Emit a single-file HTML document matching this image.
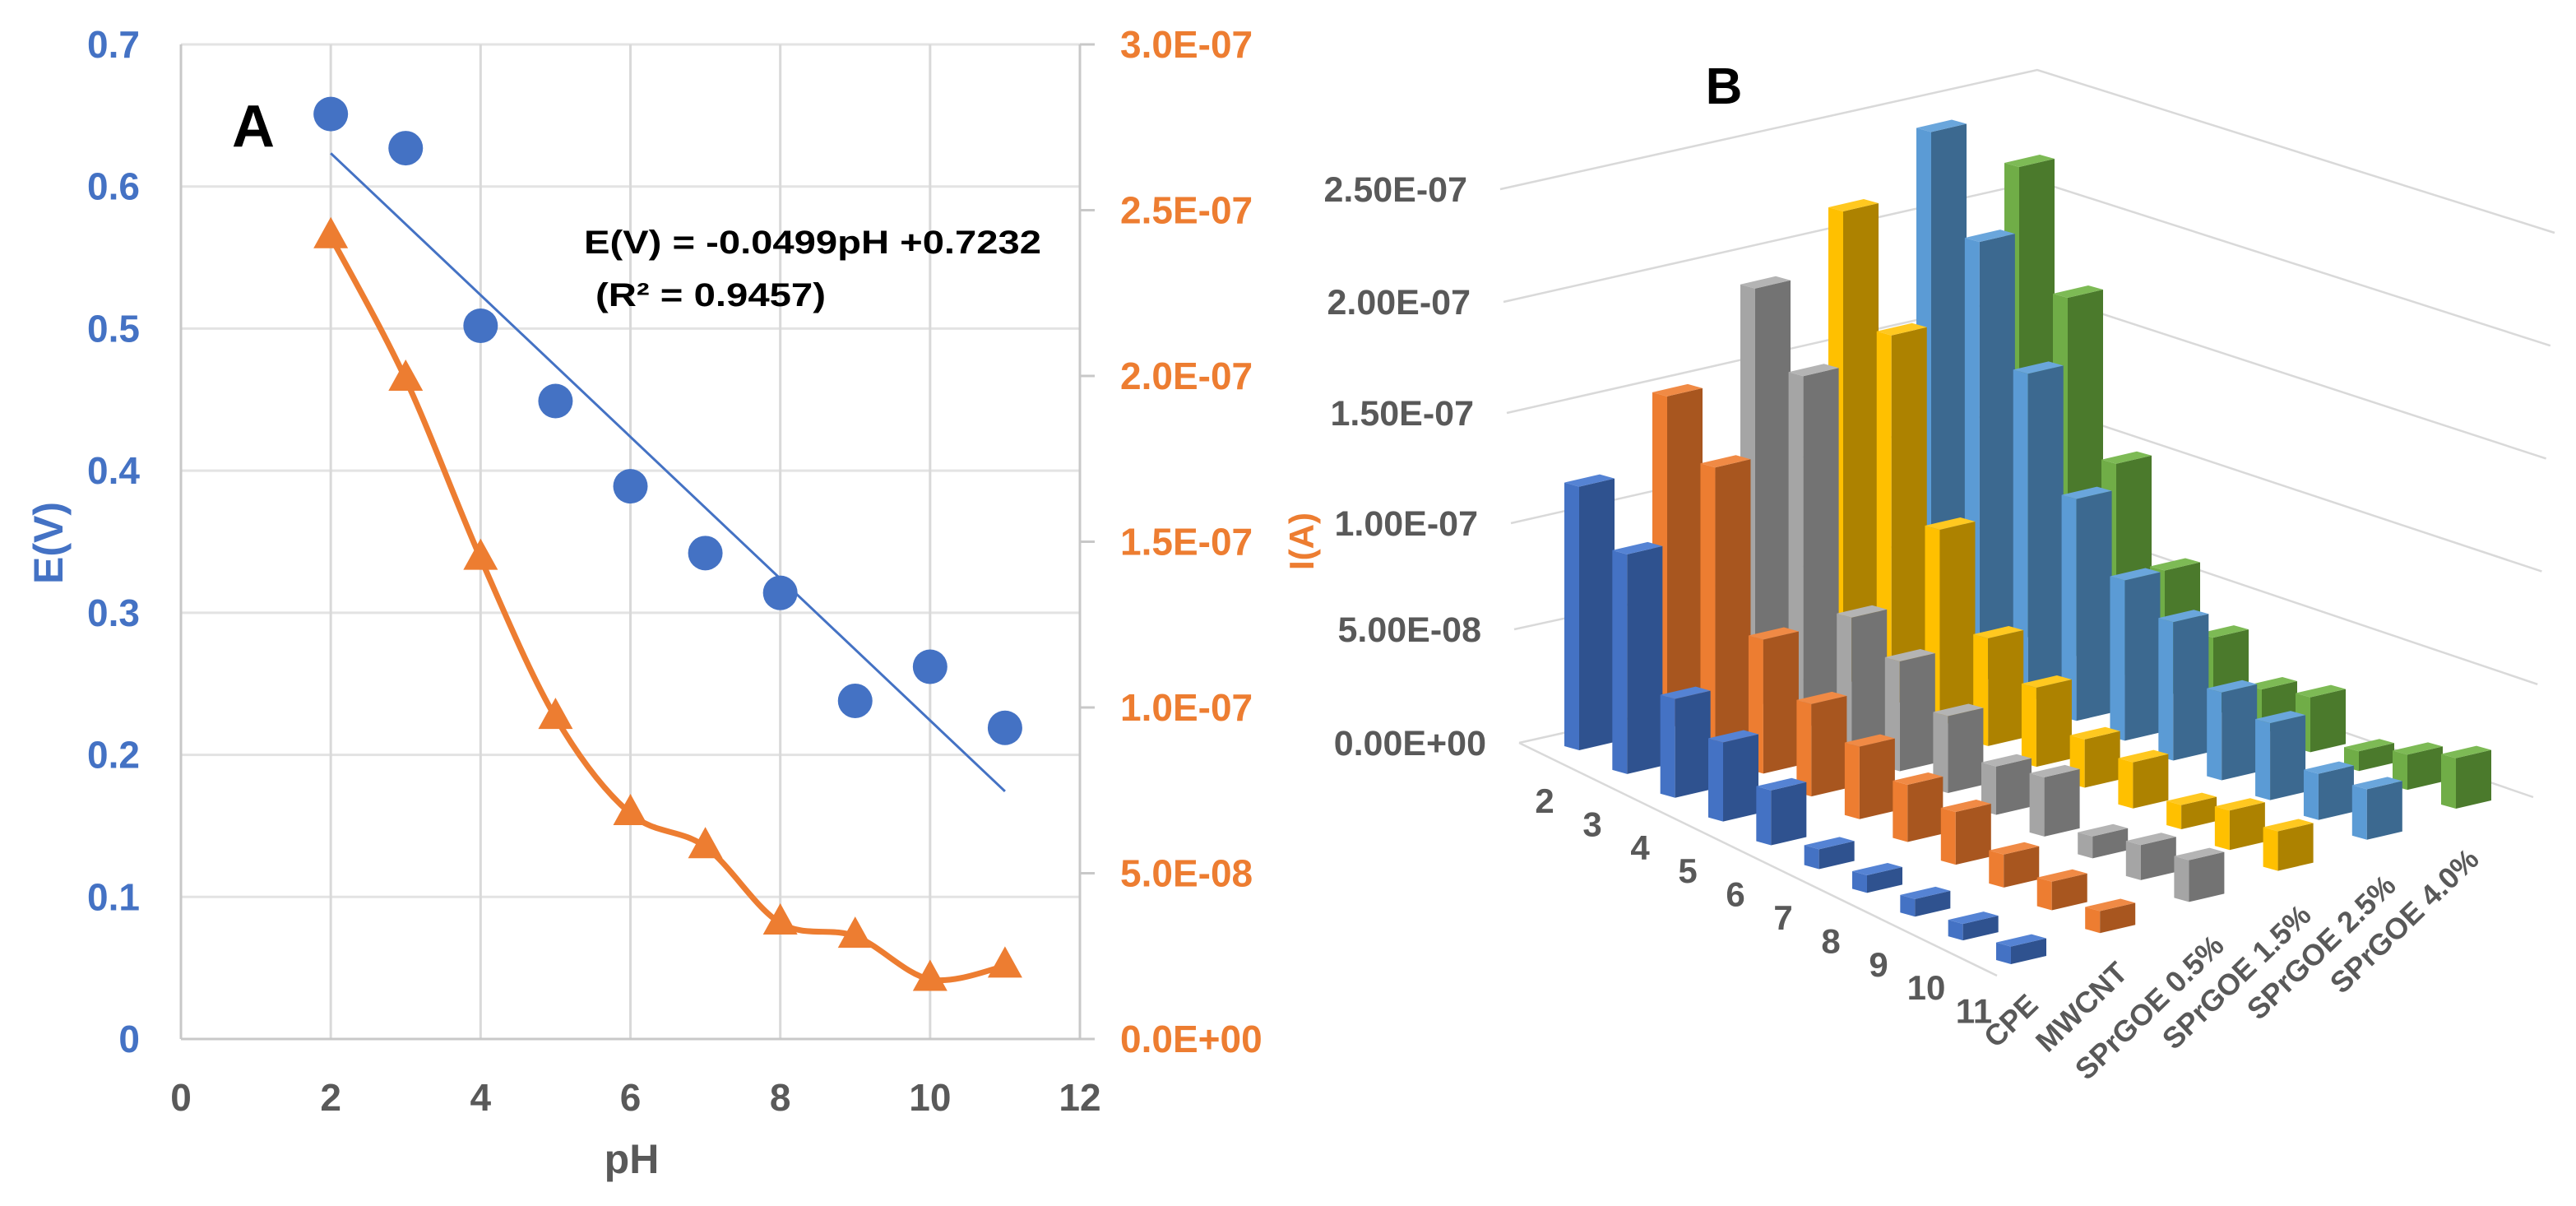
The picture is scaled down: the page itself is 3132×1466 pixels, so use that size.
<!DOCTYPE html>
<html><head><meta charset="utf-8">
<style>
html,body{margin:0;padding:0;background:#fff;}
svg{display:block;font-family:"Liberation Sans",sans-serif;font-weight:bold;}
</style></head>
<body>
<svg id="fig" width="3132" height="1466" viewBox="0 0 3132 1466" xmlns="http://www.w3.org/2000/svg">
<g id="chartA"></g>
<g id="chartB"></g>
</svg>
<script>
// ---------- Chart A data ----------
const phValues = [2,3,4,5,6,7,8,9,10,11];
const potentialV = [0.651,0.627,0.502,0.449,0.389,0.342,0.314,0.238,0.262,0.219];
const currentA = [2.42e-7,1.99e-7,1.45e-7,0.97e-7,0.68e-7,0.58e-7,0.35e-7,0.31e-7,0.18e-7,0.22e-7];
const xTicks = [0,2,4,6,8,10,12];
const yLeftTicks = ["0","0.1","0.2","0.3","0.4","0.5","0.6","0.7"];
const yRightTicks = ["0.0E+00","5.0E-08","1.0E-07","1.5E-07","2.0E-07","2.5E-07","3.0E-07"];
const trendSlope = -0.0499;
const trendIntercept = 0.7232;

// ---------- Chart B data ----------
const pHCategories = ["2","3","4","5","6","7","8","9","10","11"];
const seriesNames = ["CPE","MWCNT","SPrGOE 0.5%","SPrGOE 1.5%","SPrGOE 2.5%","SPrGOE 4.0%"];
const cpeVals = [1.20e-7,1.00e-7,0.45e-7,0.36e-7,0.25e-7,0.09e-7,0.08e-7,0.08e-7,0.07e-7,0.08e-7];
const mwcntVals = [1.51e-7,1.29e-7,0.61e-7,0.42e-7,0.33e-7,0.26e-7,0.24e-7,0.15e-7,0.13e-7,0.10e-7];
const sp05Vals = [1.90e-7,1.60e-7,0.60e-7,0.50e-7,0.35e-7,0.22e-7,0.27e-7,0.10e-7,0.16e-7,0.19e-7];
const sp15Vals = [2.15e-7,1.68e-7,0.89e-7,0.49e-7,0.36e-7,0.22e-7,0.21e-7,0.11e-7,0.18e-7,0.18e-7];
const sp25Vals = [2.41e-7,2.00e-7,1.49e-7,1.01e-7,0.73e-7,0.63e-7,0.40e-7,0.35e-7,0.21e-7,0.23e-7];
const sp40Vals = [2.15e-7,1.64e-7,0.97e-7,0.57e-7,0.35e-7,0.20e-7,0.25e-7,0.09e-7,0.16e-7,0.23e-7];
const bTicks = ["0.00E+00","5.00E-08","1.00E-07","1.50E-07","2.00E-07","2.50E-07"];

const NS="http://www.w3.org/2000/svg";
function mk(parent,tag,attrs,text){const e=document.createElementNS(NS,tag);for(const k in attrs)e.setAttribute(k,attrs[k]);if(text!==undefined)e.textContent=text;parent.appendChild(e);return e;}

// ===== Chart A =====
const A=document.getElementById('chartA');
const axL=220, axR=1313, axB=1263, axT=54;
const xs=v=>axL+(v-0)/12*(axR-axL);
const ys=v=>axB-v/0.7*(axB-axT);
const ysR=v=>axB-v/3e-7*(axB-axT);
for(let i=1;i<yLeftTicks.length;i++){
  const y=ys(i*0.1);
  const g=mk(A,'line',{x1:axL,x2:axR,y1:y,y2:y,stroke:'#e3e3e3','stroke-width':3});
  
  
}
xTicks.forEach(t=>{ if(t===0||t===12)return;
  const g=mk(A,'line',{x1:xs(t),x2:xs(t),y1:axT,y2:axB,stroke:'#d9d9d9','stroke-width':3});
  
  
});
let e=mk(A,'line',{x1:axL,x2:axL,y1:axT,y2:axB,stroke:'#c8c8c8','stroke-width':3});


e=mk(A,'line',{x1:axL,x2:axR,y1:axB,y2:axB,stroke:'#c8c8c8','stroke-width':3});


e=mk(A,'line',{x1:axR,x2:axR,y1:axT,y2:axB,stroke:'#c8c8c8','stroke-width':3});


yLeftTicks.forEach((t,i)=>{
  const l=mk(A,'text',{x:170,y:ys(i*0.1)+16,'text-anchor':'end','font-size':46,fill:'#4472C4'},t);
  
  
});
yRightTicks.forEach((t,i)=>{
  const y=ysR(i*5e-8);
  const tk=mk(A,'line',{x1:axR,x2:axR+18,y1:y,y2:y,stroke:'#c8c8c8','stroke-width':3});
  
  
  const l=mk(A,'text',{x:1362,y:y+16,'font-size':46,fill:'#ED7D31'},t);
  
  
});
xTicks.forEach(t=>{
  const l=mk(A,'text',{x:xs(t),y:1350,'text-anchor':'middle','font-size':46,fill:'#595959'},String(t));
  
  
});
e=mk(A,'text',{x:768,y:1426,'text-anchor':'middle','font-size':50,fill:'#595959'},'pH');


e=mk(A,'text',{x:0,y:0,'text-anchor':'middle','font-size':50,fill:'#4472C4',transform:'translate(76,660) rotate(-90)'},'E(V)');


e=mk(A,'text',{x:282,y:178,'font-size':72,fill:'#000'},'A');


const p0=phValues[0], p1=phValues[phValues.length-1];
e=mk(A,'line',{x1:xs(p0),y1:ys(trendSlope*p0+trendIntercept),x2:xs(p1),y2:ys(trendSlope*p1+trendIntercept),stroke:'#4472C4','stroke-width':3});


const pts=phValues.map((p,i)=>[xs(p),ysR(currentA[i])]);
let d='M'+pts[0][0]+','+pts[0][1];
for(let i=0;i<pts.length-1;i++){
  const a=pts[Math.max(0,i-1)],b=pts[i],c=pts[i+1],n=pts[Math.min(pts.length-1,i+2)];
  const t=1/6;
  d+=' C'+(b[0]+(c[0]-a[0])*t)+','+(b[1]+(c[1]-a[1])*t)+' '+(c[0]-(n[0]-b[0])*t)+','+(c[1]-(n[1]-b[1])*t)+' '+c[0]+','+c[1];
}
e=mk(A,'path',{d:d,fill:'none',stroke:'#ED7D31','stroke-width':7,'stroke-linejoin':'round'});


pts.forEach(p=>{
  const tr=mk(A,'polygon',{points:`${p[0]},${p[1]-24} ${p[0]-21},${p[1]+14} ${p[0]+21},${p[1]+14}`,fill:'#ED7D31'});
  
  
});
phValues.forEach((p,i)=>{
  const c=mk(A,'circle',{cx:xs(p),cy:ys(potentialV[i]),r:21,fill:'#4472C4'});
  
  
});
e=mk(A,'text',{x:710,y:308,'font-size':40,fill:'#000',textLength:556,lengthAdjust:'spacingAndGlyphs'},'E(V) = -0.0499pH +0.7232');


e=mk(A,'text',{x:724,y:372,'font-size':40,fill:'#000',textLength:280,lengthAdjust:'spacingAndGlyphs'},'(R² = 0.9457)');



// ===== Chart B =====
const B=document.getElementById('chartB');
const allSeries=[cpeVals,mwcntVals,sp05Vals,sp15Vals,sp25Vals,sp40Vals];
const lightC=['#4472C4','#ED7D31','#A5A5A5','#FFC000','#5B9BD5','#70AD47'];
const darkC=['#2F528F','#A8561F','#737373','#AD8200','#3C6990','#4B7A2C'];
const topC=['#5583D4','#F08A45','#B4B4B4','#FFC820','#6AA6DC','#7DBA55'];
const names=['cpe','mwcnt','sprgoe-0-5','sprgoe-1-5','sprgoe-2-5','sprgoe-4-0'];
const wallL=[[1824,230],[1828,367],[1832,502],[1837,636],[1841,765],[1847,903]].reverse();
const cornerX=2477, cornerBot=762, cornerStep=135.4;
for(let k=0;k<bTicks.length;k++){
  const l=wallL[k]; const cy=cornerBot-k*cornerStep;
  const rx=3080+ (3106-3080)*k/5, ry=969+(283-969)*k/5;
  const g=mk(B,'polyline',{points:`${l[0]},${l[1]} ${cornerX},${cy} ${rx},${ry}`,fill:'none',stroke:'#d9d9d9','stroke-width':2.5});
  
  
  const t=mk(B,'text',{x:l[0]-40,y:l[1]+15,'text-anchor':'end','font-size':43,fill:'#595959'},bTicks[k]);
  
  
}
e=mk(B,'line',{x1:1847,y1:903,x2:2428,y2:1186,stroke:'#d9d9d9','stroke-width':2.5});


function base(i,j){const t=i/9,s=j/5;
  const x=(1-s)*(1-t)*1920+(1-s)*t*2445+s*(1-t)*2455+s*t*2986;
  const y=(1-s)*(1-t)*912+(1-s)*t*1172+s*(1-t)*777+s*t*983;
  return [x,y];}
const hScale=267/1e-7;
const bars=[];
allSeries.forEach((vals,j)=>vals.forEach((v,i)=>bars.push({i,j,v})));
bars.sort((a,b)=>base(a.i,a.j)[1]-base(b.i,b.j)[1]);
bars.forEach(b=>{
  const [px,py]=base(b.i,b.j); const h=Math.max(b.v*hScale,20);
  const g=mk(B,'g',{});
  
  
  const L=[px-18,py-5],R=[px+43,py-10],Bk=[px+25,py-15];
  mk(g,'polygon',{points:`${L[0]},${L[1]} ${px},${py} ${px},${py-h} ${L[0]},${L[1]-h}`,fill:lightC[b.j]});
  mk(g,'polygon',{points:`${px},${py} ${R[0]},${R[1]} ${R[0]},${R[1]-h} ${px},${py-h}`,fill:darkC[b.j]});
  mk(g,'polygon',{points:`${L[0]},${L[1]-h} ${px},${py-h} ${R[0]},${R[1]-h} ${Bk[0]},${Bk[1]-h}`,fill:topC[b.j]});
});
pHCategories.forEach((c,i)=>{
  const t=mk(B,'text',{x:1878+i*58,y:988+i*28.4,'text-anchor':'middle','font-size':42,fill:'#595959'},c);
  
  
});
const sEnd=[[2488,1202],[2597,1163],[2714,1130],[2820,1093],[2923,1057],[3024,1025]];
seriesNames.forEach((s,j)=>{
  const [x,y]=sEnd[j];
  const t=mk(B,'text',{x:0,y:0,'text-anchor':'end','font-size':36,fill:'#595959',transform:`translate(${x-8},${y+22}) rotate(-44)`},s);
  
  
});
e=mk(B,'text',{x:2096,y:126,'text-anchor':'middle','font-size':62,fill:'#000'},'B');


e=mk(B,'text',{x:0,y:0,'text-anchor':'middle','font-size':42,fill:'#ED7D31',transform:'translate(1597,658) rotate(-90)'},'I(A)');


</script>
</body></html>
